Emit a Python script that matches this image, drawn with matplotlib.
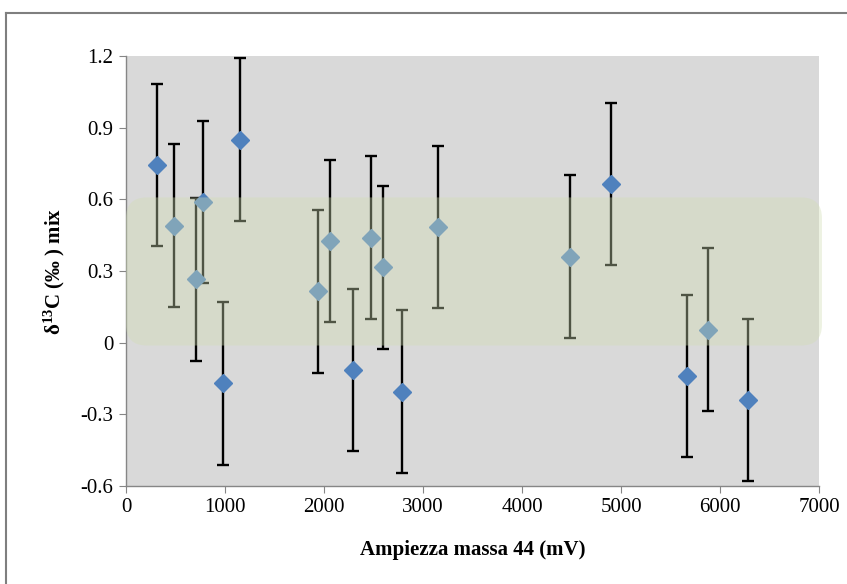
import matplotlib
matplotlib.use("Agg")
from matplotlib import pyplot as plt
from matplotlib.patches import FancyBboxPatch
from matplotlib.lines import Line2D
import numpy as np

# amplitude of mass 44 (mV) and delta13C of the mix
ampiezza = [313, 485, 707, 778, 980, 1152, 1939, 2061, 2293, 2475,
            2596, 2788, 3152, 4485, 4899, 5667, 5879, 6283]
delta13c = [0.743, 0.49, 0.265, 0.59, -0.17, 0.85, 0.215, 0.425, -0.115, 0.44,
            0.315, -0.205, 0.485, 0.36, 0.665, -0.14, 0.055, -0.24]
errore = 0.34

# accepted range drawn as a shaded band
banda_min, banda_max = 0.0, 0.6

y_ticks = [-0.6, -0.3, 0, 0.3, 0.6, 0.9, 1.2]
x_ticks = [0, 1000, 2000, 3000, 4000, 5000, 6000, 7000]

serif = ['Liberation Serif', 'DejaVu Serif']
plt.rcParams['font.family'] = serif
plt.rcParams['mathtext.fontset'] = 'custom'
plt.rcParams['mathtext.rm'] = 'Liberation Serif:bold'
plt.rcParams['mathtext.bf'] = 'Liberation Serif:bold'
plt.rcParams['mathtext.it'] = 'Liberation Serif:italic:bold'

fig = plt.figure(figsize=(8.47, 5.84), dpi=100)
fig.patch.set_facecolor('white')
ax = fig.add_axes([126/847, 1-486/584, (819-126)/847, (486-56)/584])
ax.set_facecolor('#D9D9D9')

ax.errorbar(ampiezza, delta13c, yerr=errore, fmt='D', color='#4F81BD',
            markersize=9, markeredgecolor='#4F81BD', ecolor='black',
            elinewidth=1.7, capsize=4.5, capthick=1.7, zorder=3)

ax.set_xlim(0, 7000)
ax.set_ylim(-0.6, 1.2)
ax.set_xticks(x_ticks)
ax.set_yticks(y_ticks)
ax.set_yticklabels(['-0.6', '-0.3', '0', '0.3', '0.6', '0.9', '1.2'])

# rounded translucent band on top of the points
x_px = (819 - 126) / 7000
y_px = (486 - 56) / 1.8
band = FancyBboxPatch((0, banda_min - 0.012), 7030, banda_max - banda_min + 0.02,
                      boxstyle='round,pad=0,rounding_size=210',
                      mutation_aspect=x_px / y_px,
                      facecolor='#D2DEB4', edgecolor='none', alpha=0.38,
                      transform=ax.transData, clip_on=False, zorder=5)
ax.add_patch(band)

for s in ['top', 'right']:
    ax.spines[s].set_visible(False)
for s in ['left', 'bottom']:
    ax.spines[s].set_color('#868686')
    ax.spines[s].set_linewidth(1.0)
ax.tick_params(direction='out', length=5, color='#868686', labelsize=15, pad=4)

ax.set_xlabel('Ampiezza massa 44 (mV)', fontsize=15, fontweight='bold', labelpad=16)
ax.set_ylabel(r'δ$^{13}$C (‰ ) mix', fontsize=15, fontweight='bold', labelpad=10)

# outer chart frame
fig.add_artist(Line2D([6/847, 1.0], [1-13/584, 1-13/584], color='#7F7F7F', lw=1.5,
                      transform=fig.transFigure))
fig.add_artist(Line2D([6/847, 6/847], [0, 1-13/584], color='#7F7F7F', lw=1.5,
                      transform=fig.transFigure))

fig.savefig('out.png', dpi=100)
